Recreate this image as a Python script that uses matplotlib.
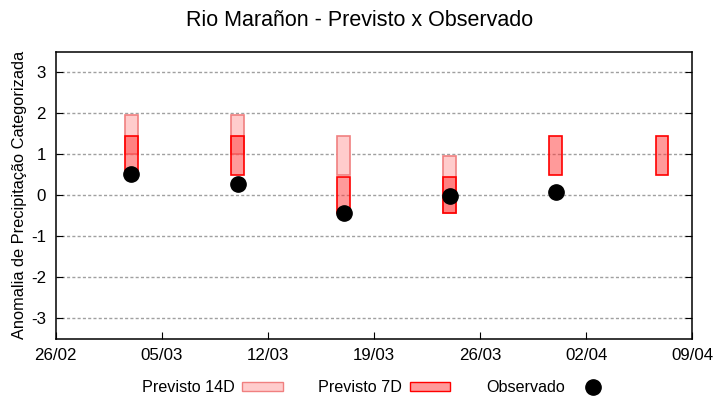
import pandas as pd
import numpy as np
import matplotlib
matplotlib.use('Agg')
import matplotlib.pyplot as plt
import matplotlib.dates as mdates
from matplotlib.patches import Patch
from matplotlib.lines import Line2D

plt.rcParams['font.family'] = ['Liberation Sans', 'DejaVu Sans']
plt.rcParams['axes.unicode_minus'] = False

# dados
datas = pd.to_datetime(['2023-03-03', '2023-03-10', '2023-03-17', '2023-03-24', '2023-03-31', '2023-04-07'])
prev14_min = [1.0, 1.0, 0.5, -0.45, np.nan, np.nan]
prev14_max = [1.95, 1.95, 1.45, 0.95, np.nan, np.nan]
prev7_min = [0.5, 0.5, -0.45, -0.45, 0.5, 0.5]
prev7_max = [1.45, 1.45, 0.43, 0.43, 1.45, 1.45]
observado = [0.51, 0.27, -0.45, -0.03, 0.07, np.nan]
ticks_x = pd.date_range('2023-02-26', '2023-04-09', freq='7D')

fig = plt.figure(figsize=(7.2, 4), dpi=100)
ax = fig.add_axes([0.0774, 0.152, 0.884, 0.719])

alt14 = np.array(prev14_max) - np.array(prev14_min)
alt7 = np.array(prev7_max) - np.array(prev7_min)
ax.bar(datas, alt14, bottom=prev14_min, width=0.84, color='#ffcccc', edgecolor='#f08080', linewidth=1.2, zorder=2)
ax.bar(datas, alt7, bottom=prev7_min, width=0.84, color=(1, 0.216, 0.216, 0.5), edgecolor='#ff0000', linewidth=1.2, zorder=3)
ax.plot(datas, observado, 'o', color='black', markersize=11, zorder=4)

ax.set_xlim(ticks_x[0], ticks_x[-1])
ax.set_ylim(-3.53, 3.51)
ax.set_yticks([-3, -2, -1, 0, 1, 2, 3])
ax.set_xticks(ticks_x)
ax.xaxis.set_major_formatter(mdates.DateFormatter('%d/%m'))
ax.tick_params(direction='in', length=5, labelsize=12.2, right=True, top=False, pad=6)
ax.tick_params(axis='y', pad=7)
ax.yaxis.grid(True, linestyle=(0, (2.2, 1.6)), color='#a0a0a0', linewidth=1, zorder=1)
for s in ax.spines.values():
    s.set_linewidth(1.1)

ax.set_ylabel('Anomalia de Precipitação Categorizada', fontsize=11.8)
ax.yaxis.set_label_coords(-0.045, 0.5)
fig.text(0.5, 1 - 21 / 400, 'Rio Marañon - Previsto x Observado', fontsize=15.5, ha='center', va='center')

handles = [Patch(facecolor='#ffcccc', edgecolor='#f08080'),
           Patch(facecolor=(1, 0.216, 0.216, 0.5), edgecolor='#ff0000'),
           Line2D([], [], marker='o', linestyle='', color='black', markersize=11)]
fig.legend(handles, ['Previsto 14D', 'Previsto 7D', 'Observado'], loc='center', bbox_to_anchor=(0.524, 0.031),
           ncol=3, frameon=False, markerfirst=False, fontsize=11.6, handlelength=2.5, handleheight=0.45,
           handletextpad=0.5, columnspacing=2.2)

plt.savefig('out.png', dpi=100)
